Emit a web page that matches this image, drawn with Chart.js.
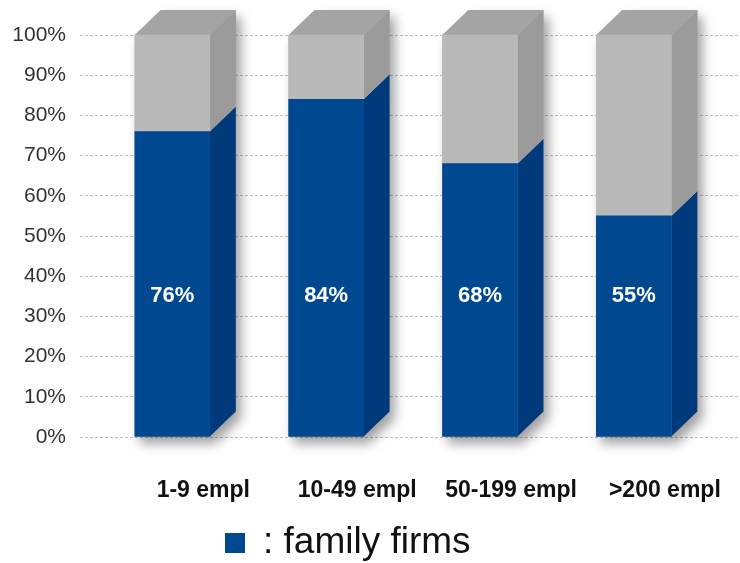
<!DOCTYPE html>
<html>
<head>
<meta charset="utf-8">
<script src="https://cdn.jsdelivr.net/npm/chart.js@4"></script>
<style>
  body { margin: 0; background: #fff; }
  canvas { display: block; }
</style>
</head>
<body>
<canvas id="firmsChart" width="740" height="563"></canvas>
<script>
const categories = ['1-9 empl', '10-49 empl', '50-199 empl', '>200 empl'];
const familyShare = [76, 84, 68, 55];
const otherShare = [24, 16, 32, 45];
const legendLabel = ': family firms';

// depth of the extruded bars, in pixels
const depthX = 26;
const depthY = 25;
// value level where the percentage labels sit
const labelLevel = 35;

const BLUE = '#004890';
const BLUE_SIDE = '#003a7a';
const GREY = '#b9b9b9';
const GREY_SIDE = '#9b9b9b';
const GREY_TOP = '#a4a4a4';

const sideColors = [BLUE_SIDE, GREY_SIDE];

const toPoints = (values) => values.map((v, i) => ({ x: i, y: v }));

// side + top faces, with a soft drop shadow under the whole block
const extrudePlugin = {
  id: 'extrude',
  beforeDatasetsDraw(chart) {
    const ctx = chart.ctx;
    const lowMeta = chart.getDatasetMeta(0);
    const topMeta = chart.getDatasetMeta(chart.data.datasets.length - 1);

    ctx.save();
    lowMeta.data.forEach((bar, i) => {
      const top = topMeta.data[i];
      const left = bar.x - bar.width / 2;
      const right = bar.x + bar.width / 2;
      ctx.beginPath();
      ctx.moveTo(left, bar.base);
      ctx.lineTo(left, top.y);
      ctx.lineTo(left + depthX, top.y - depthY);
      ctx.lineTo(right + depthX, top.y - depthY);
      ctx.lineTo(right + depthX, bar.base - depthY);
      ctx.lineTo(right, bar.base);
      ctx.closePath();
      ctx.shadowColor = 'rgba(0,0,0,0.38)';
      ctx.shadowBlur = 12;
      ctx.shadowOffsetX = 5;
      ctx.shadowOffsetY = 7;
      ctx.fillStyle = GREY;
      ctx.fill();
    });
    ctx.restore();

    chart.data.datasets.forEach((ds, d) => {
      chart.getDatasetMeta(d).data.forEach((bar) => {
        const right = bar.x + bar.width / 2;
        ctx.beginPath();
        ctx.moveTo(right, bar.y);
        ctx.lineTo(right + depthX, bar.y - depthY);
        ctx.lineTo(right + depthX, bar.base - depthY);
        ctx.lineTo(right, bar.base);
        ctx.closePath();
        ctx.fillStyle = sideColors[d];
        ctx.fill();
      });
    });

    topMeta.data.forEach((bar) => {
      const left = bar.x - bar.width / 2;
      const right = bar.x + bar.width / 2;
      ctx.beginPath();
      ctx.moveTo(left, bar.y);
      ctx.lineTo(left + depthX, bar.y - depthY);
      ctx.lineTo(right + depthX, bar.y - depthY);
      ctx.lineTo(right, bar.y);
      ctx.closePath();
      ctx.fillStyle = GREY_TOP;
      ctx.fill();
    });
  },
  afterDatasetsDraw(chart) {
    const ctx = chart.ctx;
    const yScale = chart.scales.y;
    const meta = chart.getDatasetMeta(0);

    ctx.save();
    ctx.textAlign = 'center';
    ctx.textBaseline = 'middle';

    // percentage on the blue part
    ctx.font = 'bold 22px Arial, "Liberation Sans", sans-serif';
    ctx.fillStyle = '#ffffff';
    meta.data.forEach((bar, i) => {
      ctx.fillText(familyShare[i] + '%', bar.x, yScale.getPixelForValue(labelLevel));
    });

    // category names under the bars
    ctx.font = 'bold 23px Arial, "Liberation Sans", sans-serif';
    ctx.fillStyle = '#111111';
    meta.data.forEach((bar, i) => {
      ctx.fillText(categories[i], bar.x + 31, 491);
    });

    // legend
    ctx.fillStyle = BLUE;
    ctx.fillRect(225, 533, 20, 20);
    ctx.textAlign = 'left';
    ctx.textBaseline = 'alphabetic';
    ctx.font = '37px Arial, "Liberation Sans", sans-serif';
    ctx.fillStyle = '#111111';
    ctx.fillText(legendLabel, 263, 553);
    ctx.restore();
  }
};

new Chart(document.getElementById('firmsChart'), {
  type: 'bar',
  data: {
    datasets: [
      {
        label: 'family firms',
        data: toPoints(familyShare),
        backgroundColor: BLUE,
        barThickness: 75,
        clip: false
      },
      {
        label: 'other firms',
        data: toPoints(otherShare),
        backgroundColor: GREY,
        barThickness: 75,
        clip: false
      }
    ]
  },
  options: {
    responsive: false,
    animation: false,
    layout: {
      padding: { top: 35, bottom: 126, left: 0, right: 0 }
    },
    plugins: {
      legend: { display: false },
      tooltip: { enabled: false }
    },
    scales: {
      x: {
        type: 'linear',
        stacked: true,
        display: false,
        offset: false,
        min: -0.6,
        max: 3.69
      },
      y: {
        stacked: true,
        min: 0,
        max: 100,
        afterFit: (scale) => { scale.width = 80; },
        ticks: {
          stepSize: 10,
          padding: 14,
          color: '#333333',
          font: { family: 'Arial, "Liberation Sans", sans-serif', size: 21 },
          callback: (v) => v + '%'
        },
        grid: {
          color: '#bdbdbd',
          drawTicks: false
        },
        border: { display: false, dash: [3, 2] }
      }
    }
  },
  plugins: [extrudePlugin]
});
</script>
</body>
</html>
